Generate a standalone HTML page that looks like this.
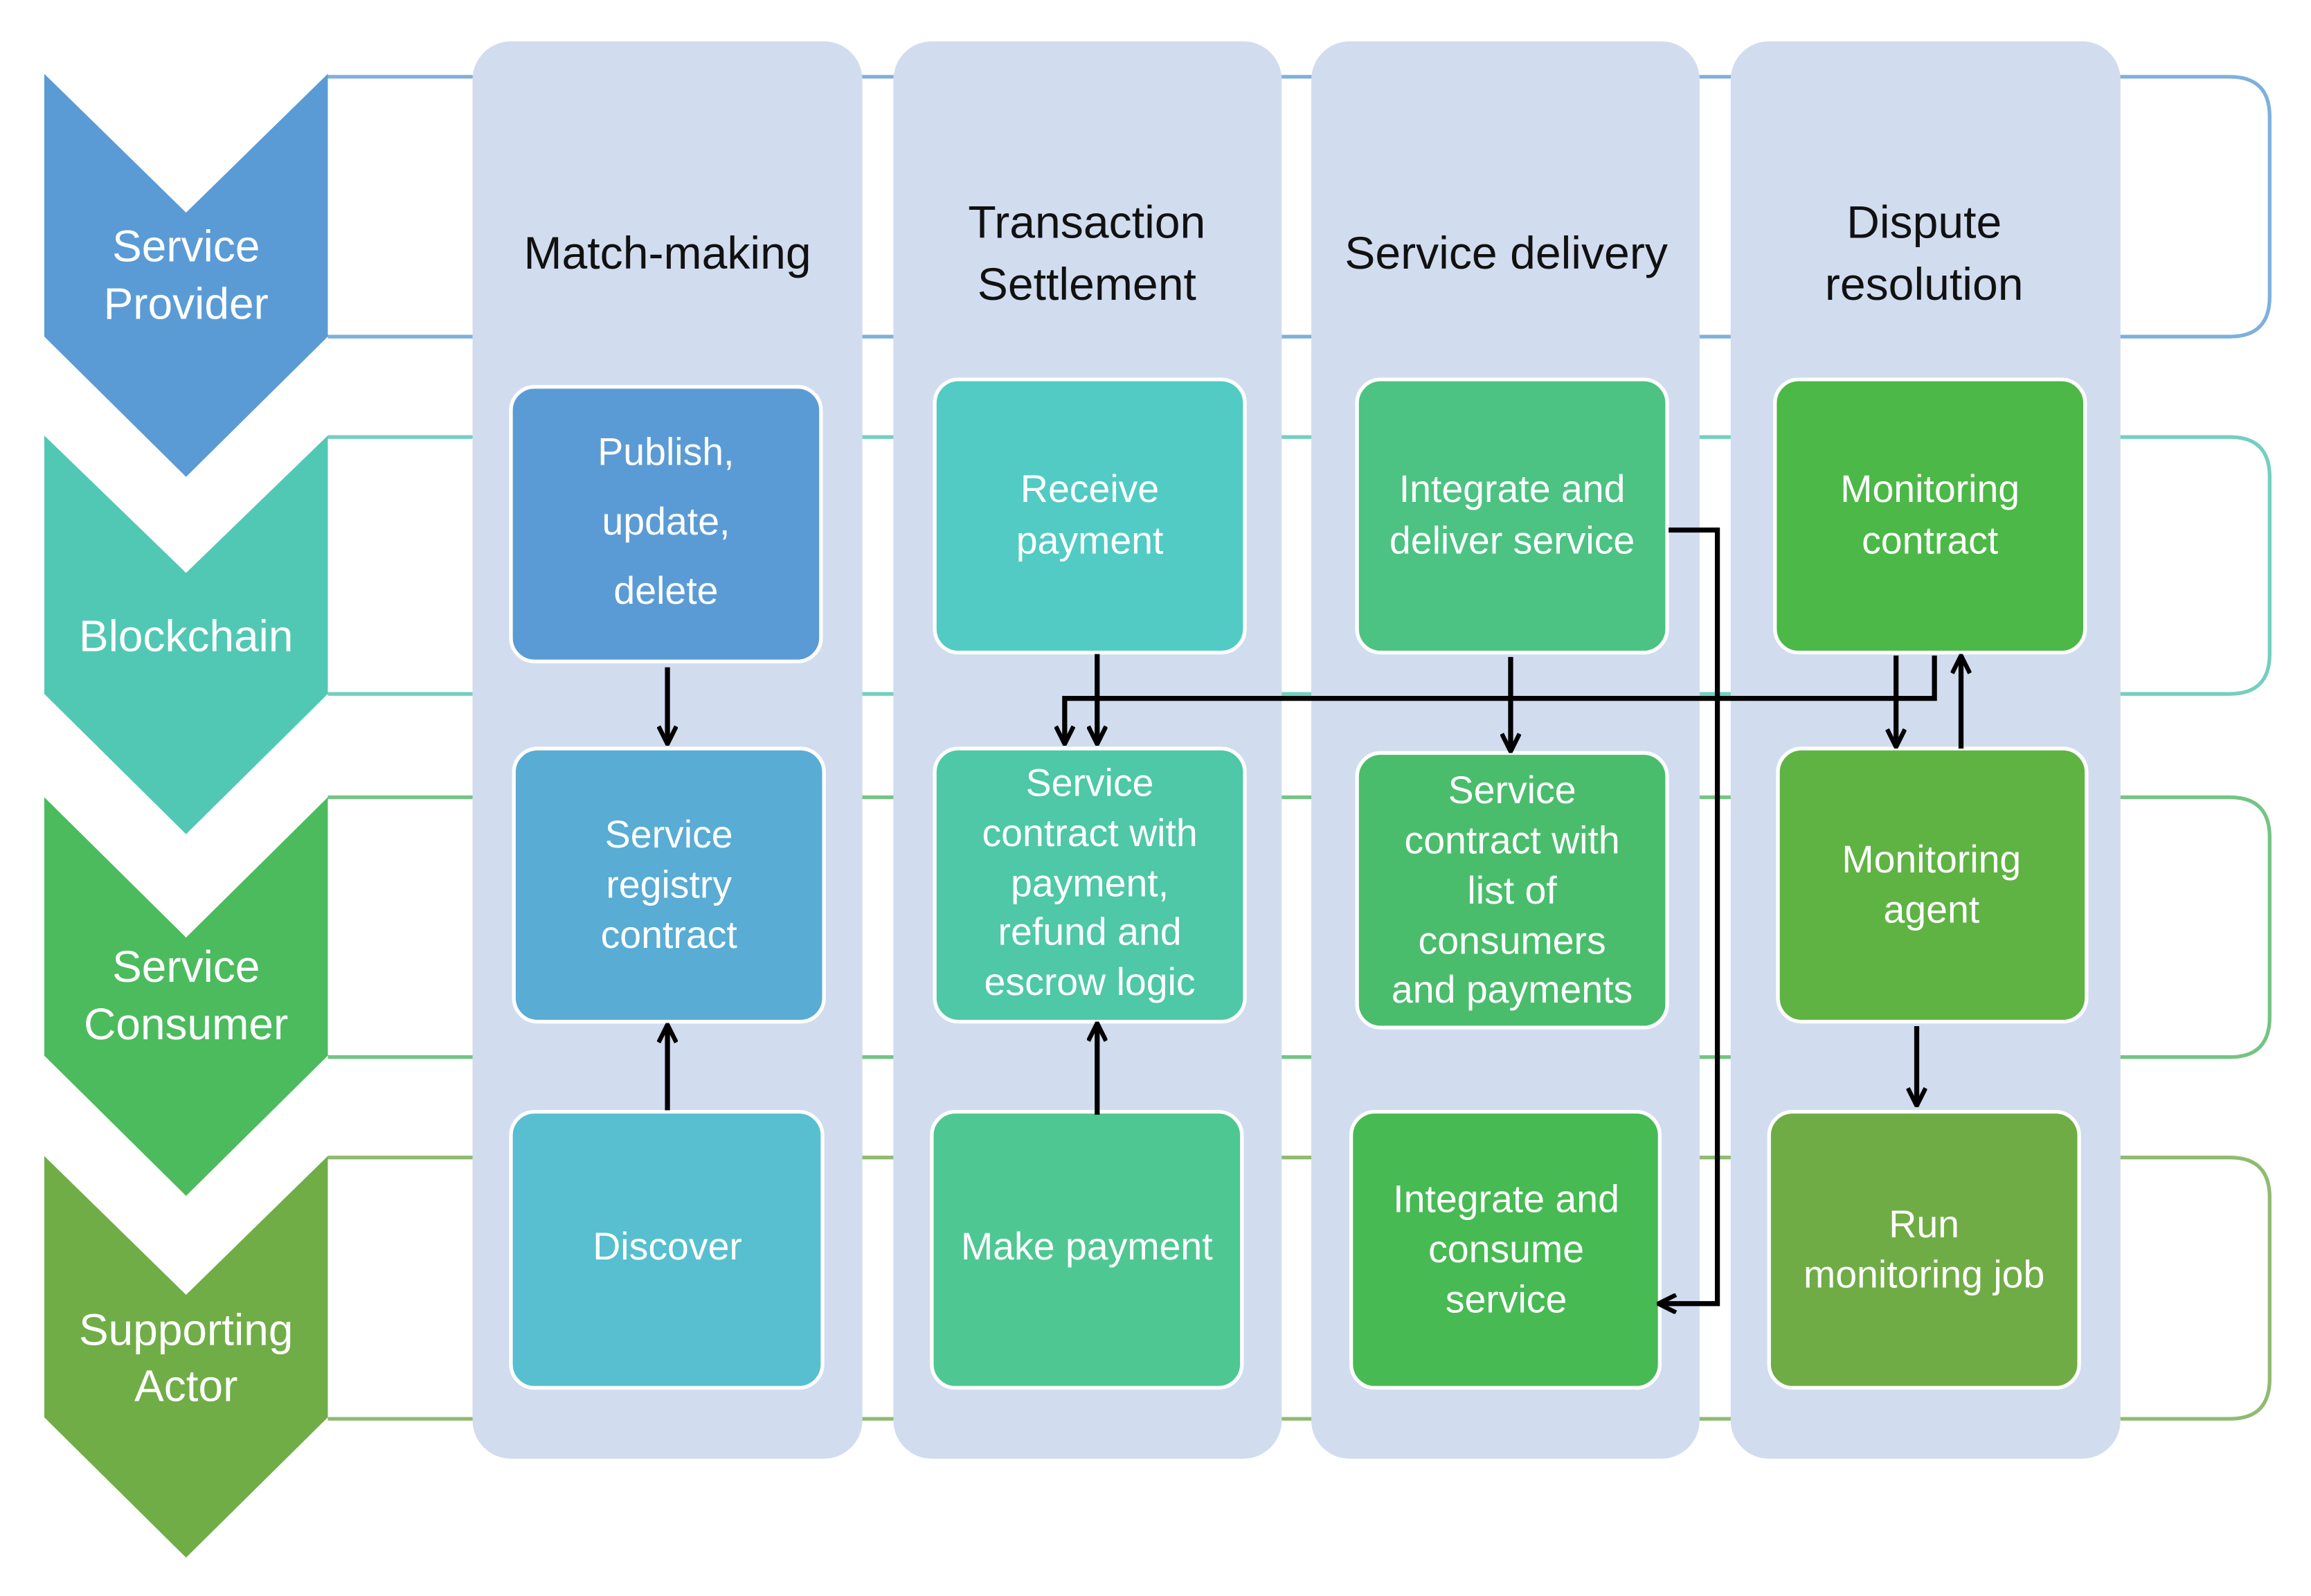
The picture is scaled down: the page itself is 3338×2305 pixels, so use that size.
<!DOCTYPE html>
<html><head><meta charset="utf-8"><style>
html,body{margin:0;padding:0;background:#fff;}
svg{display:block;}
text{font-family:"Liberation Sans",sans-serif;}
.w{fill:#fff;font-size:26px;text-anchor:middle;}
.h{fill:#111;font-size:31px;text-anchor:middle;}
.c{fill:#fff;font-size:30px;text-anchor:middle;}
.a{stroke:#000;stroke-width:3.4;fill:none;}
</style></head><body>
<svg width="3338" height="2305" viewBox="0 0 1565 1081" preserveAspectRatio="none" xmlns="http://www.w3.org/2000/svg">
<defs>
<marker id="m" viewBox="0 0 14 14" refX="13" refY="7" markerWidth="14" markerHeight="14" markerUnits="userSpaceOnUse" orient="auto">
<path d="M1,1 L13,7 L1,13" fill="none" stroke="#000" stroke-width="3"/>
</marker>
</defs>
<!-- lanes -->
<path d="M222,52 H1510 Q1537,52 1537,79 V201 Q1537,228 1510,228 H222" fill="none" stroke="#7fb0dd" stroke-width="2.5"/>
<path d="M222,296 H1510 Q1537,296 1537,323 V443 Q1537,470 1510,470 H222" fill="none" stroke="#72d0c0" stroke-width="2.5"/>
<path d="M222,540 H1510 Q1537,540 1537,567 V689 Q1537,716 1510,716 H222" fill="none" stroke="#74c484" stroke-width="2.5"/>
<path d="M222,784 H1510 Q1537,784 1537,811 V934 Q1537,961 1510,961 H222" fill="none" stroke="#90bb70" stroke-width="2.5"/>
<!-- chevrons -->
<path d="M30,50 L126,144 L222,50 V228 L126,323 L30,228 Z" fill="#5b9bd5"/>
<path d="M30,295 L126,388 L222,295 V470 L126,565 L30,470 Z" fill="#51c8b4"/>
<path d="M30,540 L126,635 L222,540 V715 L126,810 L30,715 Z" fill="#4cbb5e"/>
<path d="M30,783 L126,877 L222,783 V960 L126,1055 L30,960 Z" fill="#70ad47"/>
<text class="c" x="126" y="177">Service</text><text class="c" x="126" y="216">Provider</text>
<text class="c" x="126" y="441">Blockchain</text>
<text class="c" x="126" y="665">Service</text><text class="c" x="126" y="704">Consumer</text>
<text class="c" x="126" y="911">Supporting</text><text class="c" x="126" y="949">Actor</text>
<!-- columns -->
<rect x="320" y="28" width="264" height="960" rx="26" fill="#d1dcef"/>
<rect x="605" y="28" width="263" height="960" rx="26" fill="#d1dcef"/>
<rect x="888" y="28" width="263" height="960" rx="26" fill="#d1dcef"/>
<rect x="1172" y="28" width="264" height="960" rx="26" fill="#d1dcef"/>
<text class="h" x="452" y="182">Match-making</text>
<text class="h" x="736" y="161">Transaction</text><text class="h" x="736" y="203">Settlement</text>
<text class="h" x="1020" y="182">Service delivery</text>
<text class="h" x="1303" y="161">Dispute</text><text class="h" x="1303" y="203">resolution</text>
<!-- boxes -->
<g stroke="#fff" stroke-width="2.5">
<rect x="346" y="262" width="210" height="186" rx="16" fill="#5b9bd5"/>
<rect x="348" y="507" width="210" height="185" rx="16" fill="#59acd3"/>
<rect x="346" y="753" width="211" height="187" rx="16" fill="#57bfcf"/>
<rect x="633" y="257" width="210" height="185" rx="16" fill="#52cbc4"/>
<rect x="633" y="507" width="210" height="185" rx="16" fill="#4ec8a6"/>
<rect x="631" y="753" width="210" height="187" rx="16" fill="#4fc793"/>
<rect x="919" y="257" width="210" height="185" rx="16" fill="#4cc283"/>
<rect x="919" y="510" width="210" height="186" rx="16" fill="#4abd6c"/>
<rect x="915" y="753" width="209" height="187" rx="16" fill="#47ba53"/>
<rect x="1202" y="257" width="210" height="185" rx="16" fill="#4cb847"/>
<rect x="1204" y="507" width="209" height="185" rx="16" fill="#5fb343"/>
<rect x="1198" y="753" width="210" height="187" rx="16" fill="#70ac46"/>
</g>
<text class="w" x="451" y="315">Publish,</text><text class="w" x="451" y="362">update,</text><text class="w" x="451" y="409">delete</text>
<text class="w" x="453" y="574">Service</text><text class="w" x="453" y="608">registry</text><text class="w" x="453" y="642">contract</text>
<text class="w" x="452" y="853">Discover</text>
<text class="w" x="738" y="340">Receive</text><text class="w" x="738" y="375">payment</text>
<text class="w" x="738" y="539">Service</text><text class="w" x="738" y="573">contract with</text><text class="w" x="738" y="607">payment,</text><text class="w" x="738" y="640">refund and</text><text class="w" x="738" y="674">escrow logic</text>
<text class="w" x="736" y="853">Make payment</text>
<text class="w" x="1024" y="340">Integrate and</text><text class="w" x="1024" y="375">deliver service</text>
<text class="w" x="1024" y="544">Service</text><text class="w" x="1024" y="578">contract with</text><text class="w" x="1024" y="612">list of</text><text class="w" x="1024" y="646">consumers</text><text class="w" x="1024" y="679">and payments</text>
<text class="w" x="1020" y="821">Integrate and</text><text class="w" x="1020" y="855">consume</text><text class="w" x="1020" y="889">service</text>
<text class="w" x="1307" y="340">Monitoring</text><text class="w" x="1307" y="375">contract</text>
<text class="w" x="1308" y="591">Monitoring</text><text class="w" x="1308" y="625">agent</text>
<text class="w" x="1303" y="838">Run</text><text class="w" x="1303" y="872">monitoring job</text>
<!-- arrows -->
<path class="a" d="M452,452 V504" marker-end="url(#m)"/>
<path class="a" d="M452,752 V694" marker-end="url(#m)"/>
<path class="a" d="M743,755 V693" marker-end="url(#m)"/>
<path class="a" d="M743,443 V504" marker-end="url(#m)"/>
<path class="a" d="M1310,444 V473 H721 V504" marker-end="url(#m)"/>
<path class="a" d="M1023,445 V509" marker-end="url(#m)"/>
<path class="a" d="M1284,444 V506" marker-end="url(#m)"/>
<path class="a" d="M1328,507 V444" marker-end="url(#m)"/>
<path class="a" d="M1298,695 V749" marker-end="url(#m)"/>
<path class="a" d="M1130,359 H1163 V883 H1123" marker-end="url(#m)"/>
</svg>
</body></html>
